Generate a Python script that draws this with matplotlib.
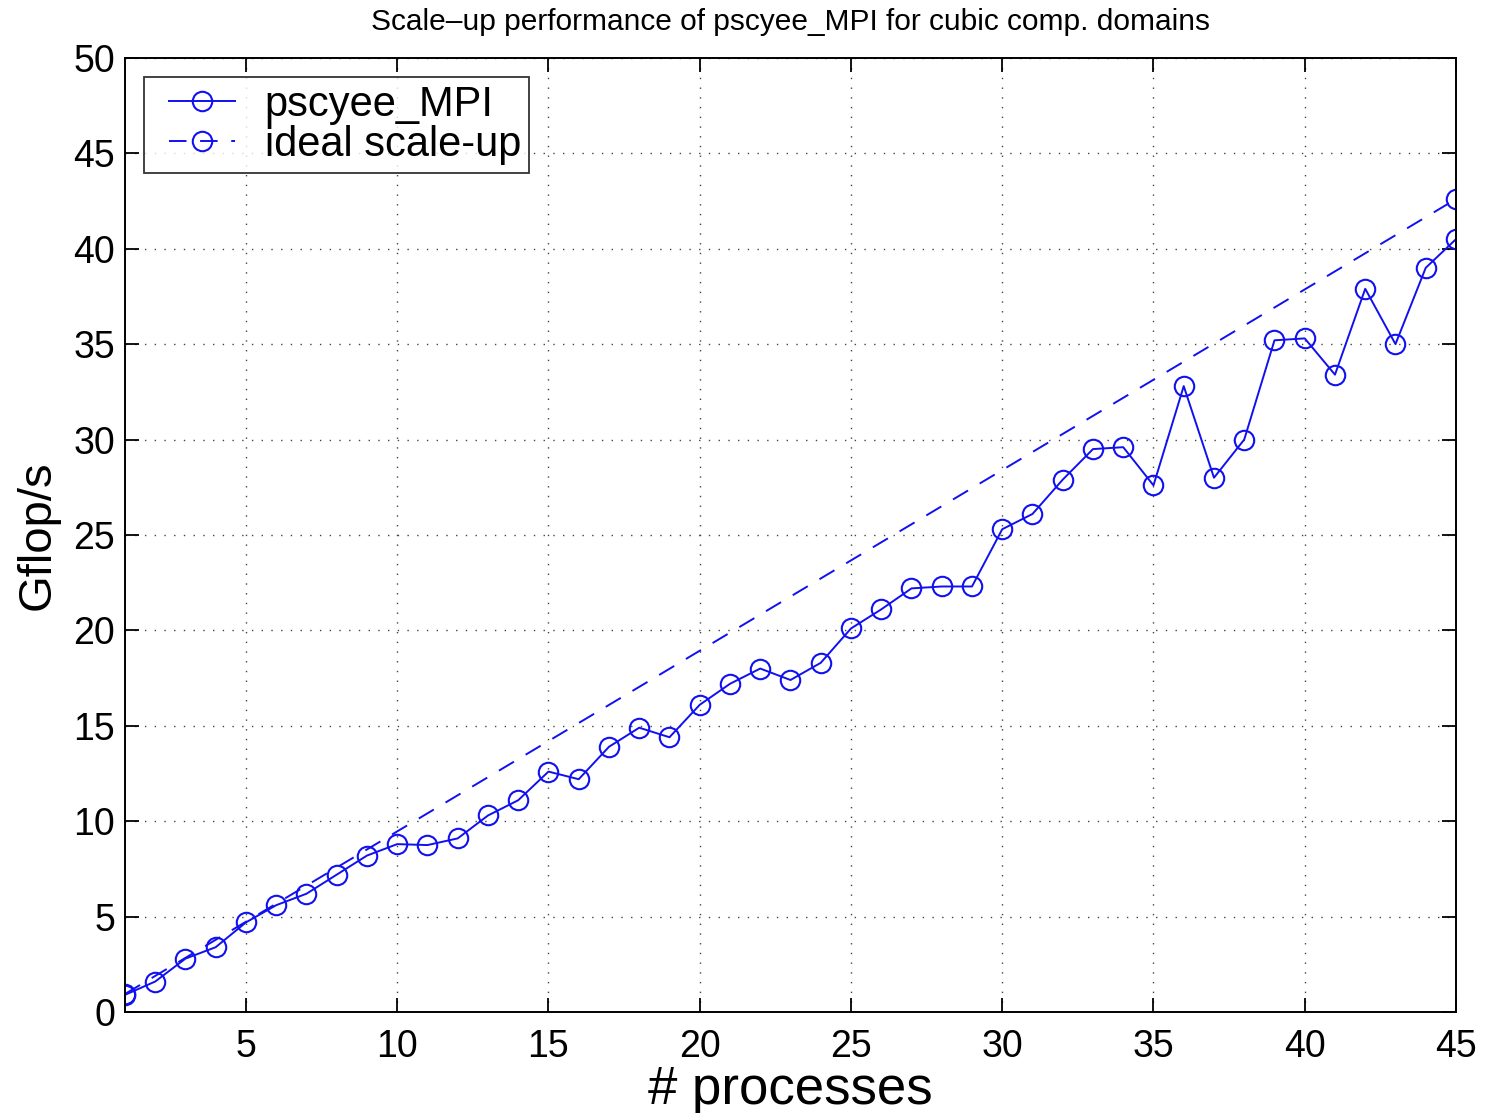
import numpy as np
import matplotlib.pyplot as plt

plt.rcParams['font.family'] = ['Liberation Sans', 'DejaVu Sans']

# measured throughput per process count
procs = np.arange(1, 46)
gflops = [0.9, 1.6, 2.8, 3.4, 4.7, 5.6, 6.2, 7.2, 8.2, 8.8,
          8.75, 9.1, 10.3, 11.1, 12.6, 12.2, 13.9, 14.9, 14.4, 16.1,
          17.2, 18.0, 17.4, 18.3, 20.1, 21.1, 22.2, 22.3, 22.3, 25.3,
          26.1, 27.9, 29.5, 29.6, 27.6, 32.8, 28.0, 30.0, 35.2, 35.3,
          33.4, 37.9, 35.0, 39.0, 40.5]

# ideal scale-up: straight line between the end points
ideal_x = [1, 45]
ideal_y = [0.947, 42.6]

fig = plt.figure(figsize=(14.86, 11.13), dpi=100)
ax = fig.add_axes([0.0841, 0.0907, 0.8957, 0.8573])

blue = '#1010f0'
ax.plot(procs, gflops, '-o', color=blue, lw=1.4, ms=14, mfc='none',
        mew=1.5, label='pscyee_MPI')
ax.plot(ideal_x, ideal_y, '--o', color=blue, lw=1.4, ms=14, mfc='none',
        mew=1.5, dashes=(9, 7), label='ideal scale-up')

ax.set_xlim(1, 45)
ax.set_ylim(0, 50)
ax.set_xticks([5, 10, 15, 20, 25, 30, 35, 40, 45])
ax.set_yticks(np.arange(0, 51, 5))
ax.tick_params(direction='in', length=10, width=1.3, labelsize=27,
               top=True, right=True)
ax.tick_params(axis='x', pad=12)
ax.tick_params(axis='y', pad=7)
ax.grid(True, color='#444444', linestyle=(0, (1, 6)), linewidth=1.0)
for s in ax.spines.values():
    s.set_linewidth(1.4)

ax.set_xlabel('# processes', fontsize=38, labelpad=0)
ax.set_ylabel('Gflop/s', fontsize=34, labelpad=10)
ax.set_title('Scale\u2013up performance of pscyee_MPI for cubic comp. domains',
             fontsize=21.5, pad=20)

leg = ax.legend(loc='upper left', fontsize=30, frameon=True, fancybox=False,
                borderpad=0.2, handlelength=2.15, handletextpad=0.55,
                labelspacing=0.0, borderaxespad=0.45)
leg.get_frame().set_edgecolor('black')
leg.get_frame().set_linewidth(1.3)

# pull the legend sample lines in from the frame edge
for ln in leg.get_lines():
    xd = np.asarray(ln.get_xdata(), dtype=float)
    w = xd[-1] - xd[0]
    ln.set_xdata(np.linspace(xd[0] + 0.19 * w, xd[0] + 0.93 * w, len(xd)))

fig.savefig('out.png', dpi=100)
